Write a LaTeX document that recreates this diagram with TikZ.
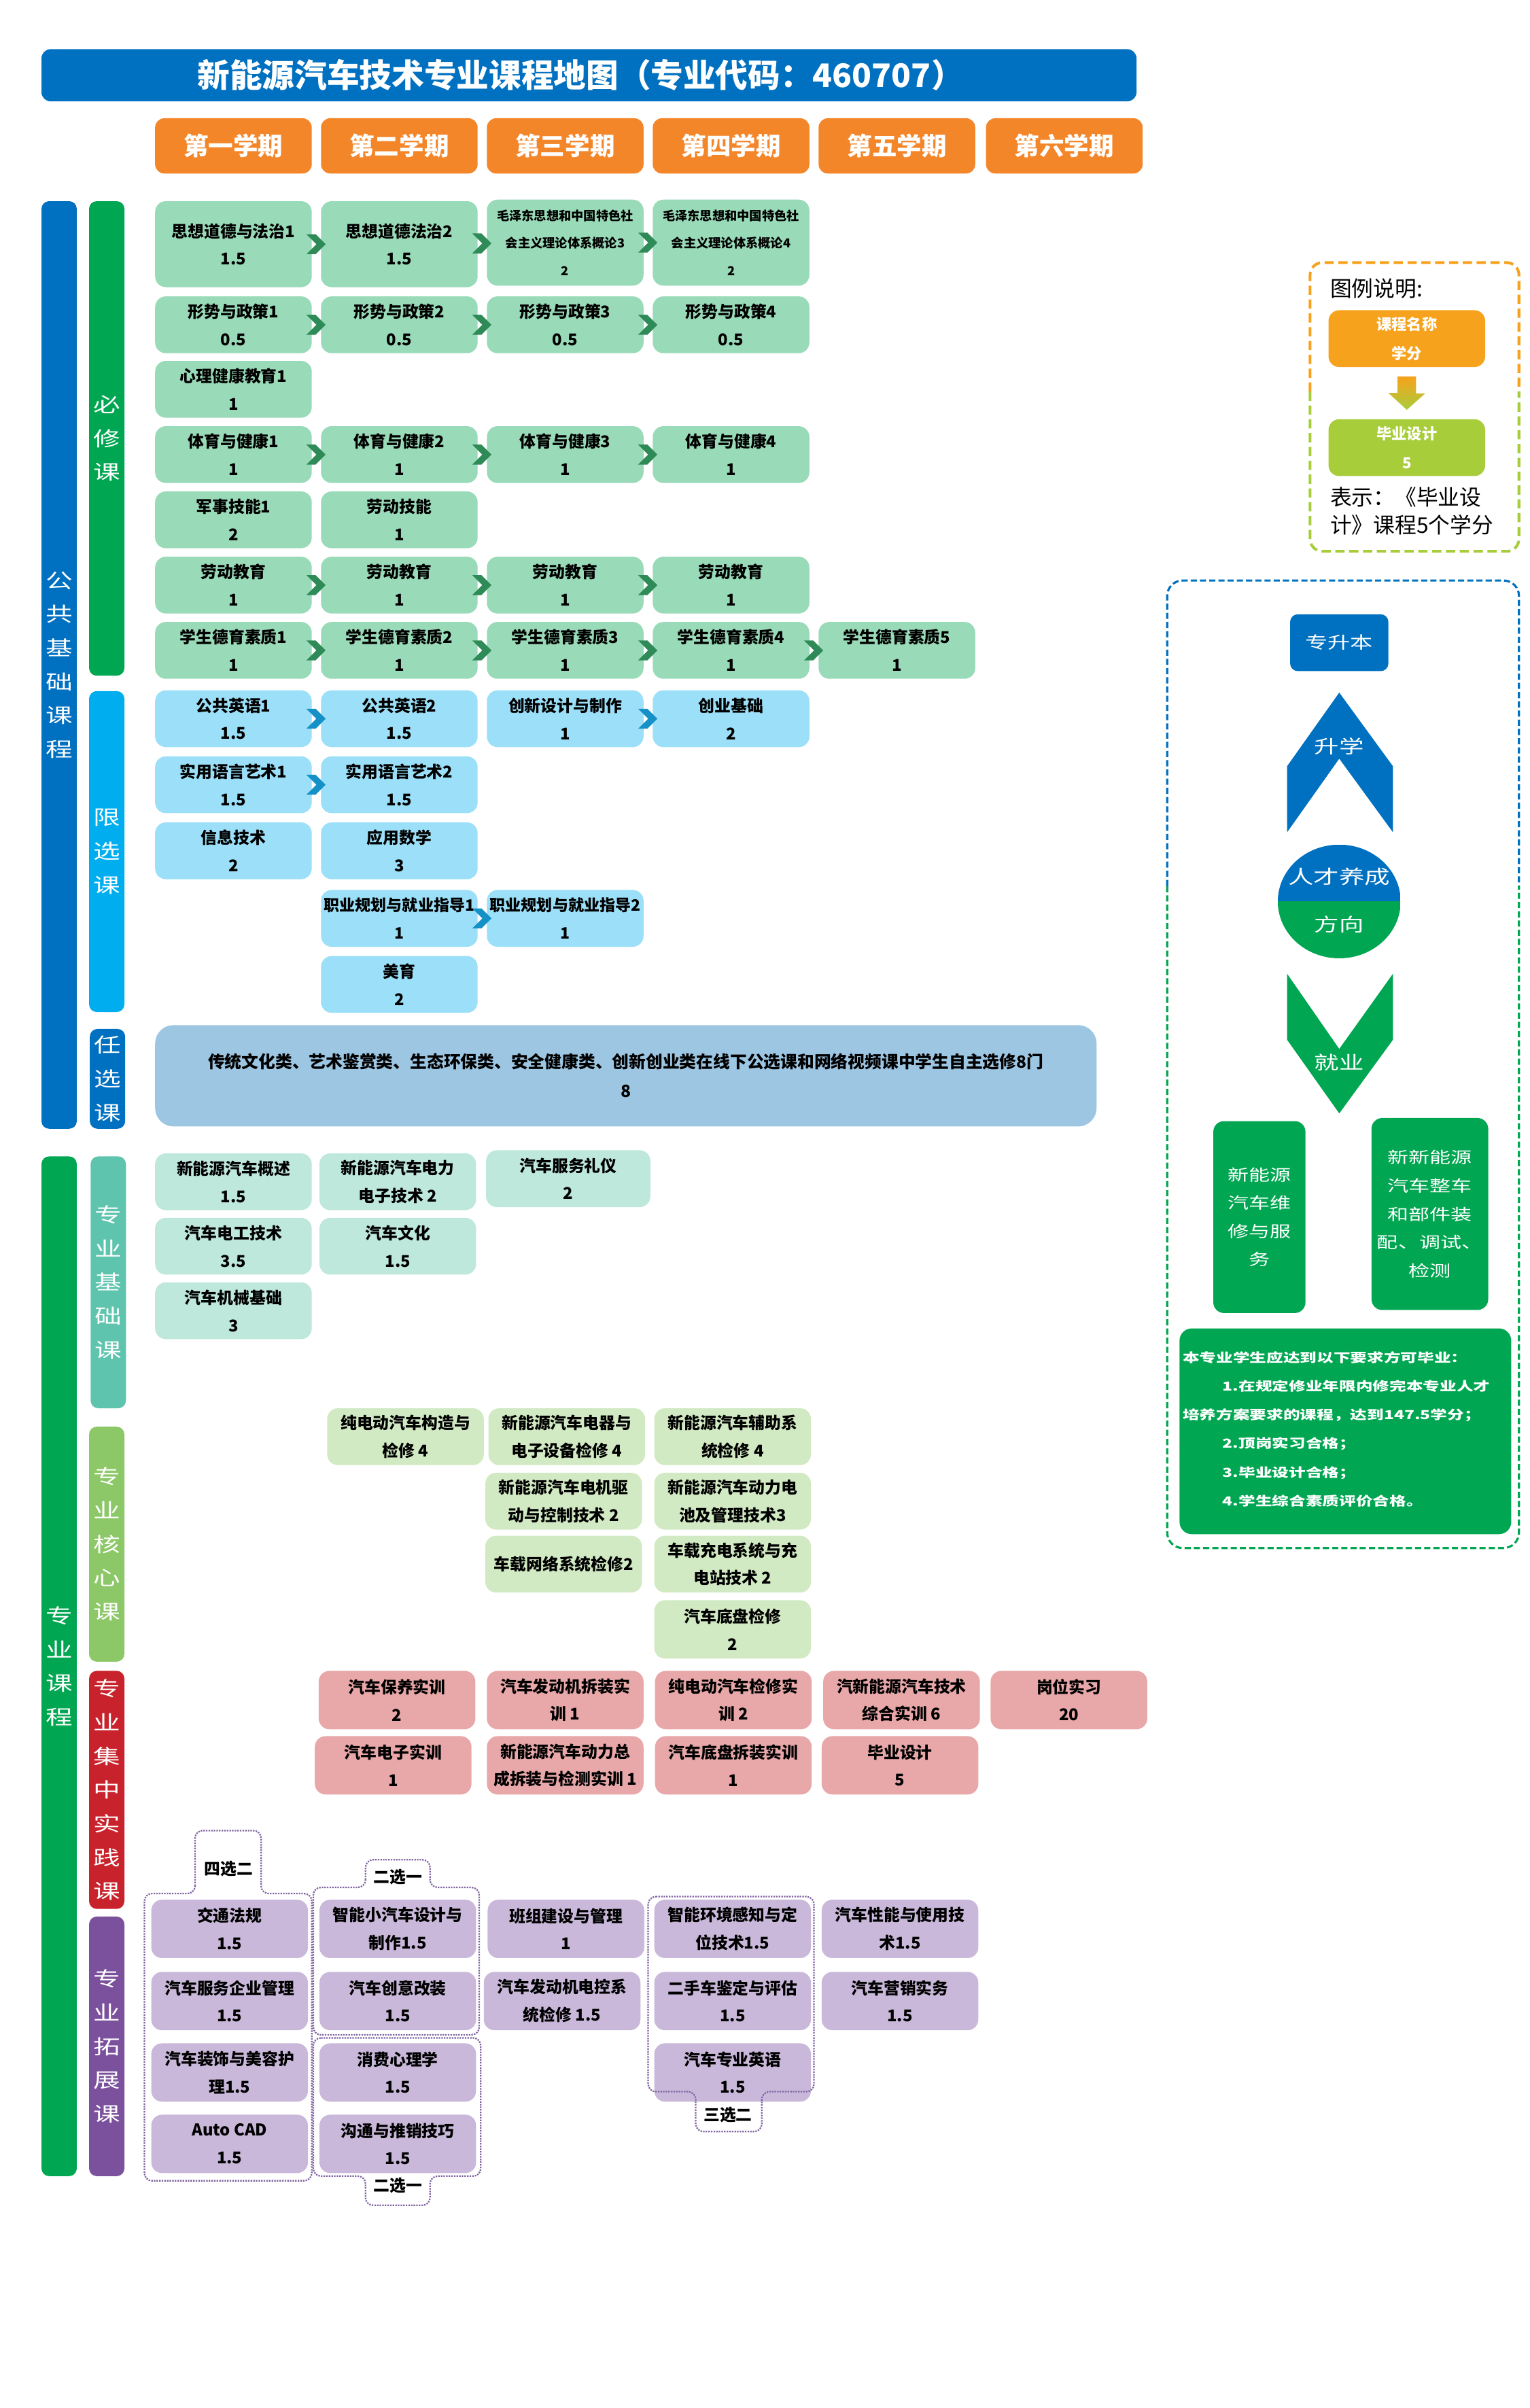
\documentclass[tikz,border=0pt]{standalone}
\usepackage{fontspec}
\setmainfont{Noto Sans CJK SC}
\newfontfamily\widefont[FakeStretch=1.35]{Noto Sans CJK SC}
\usetikzlibrary{calc,shapes.geometric}

\definecolor{mapblue}{HTML}{0070C0}
\definecolor{termorange}{HTML}{F4862A}
\definecolor{catgreen}{HTML}{00A651}
\definecolor{catcyan}{HTML}{00AEEF}
\definecolor{catteal}{HTML}{5EC4AD}
\definecolor{catlime}{HTML}{8DC868}
\definecolor{catred}{HTML}{C8232C}
\definecolor{catpurple}{HTML}{7B519D}
\definecolor{reqfill}{HTML}{99DAB8}
\definecolor{limfill}{HTML}{9BDFF8}
\definecolor{optfill}{HTML}{9DC6E3}
\definecolor{basefill}{HTML}{BFE8DD}
\definecolor{corefill}{HTML}{D2EAC3}
\definecolor{pracfill}{HTML}{E8A7A8}
\definecolor{extfill}{HTML}{C9B8DA}
\definecolor{chevgreen}{HTML}{2E8B57}
\definecolor{chevblue}{HTML}{1691C7}
\definecolor{legorange}{HTML}{F7A21C}
\definecolor{leggreen}{HTML}{A8CD3B}
\definecolor{groupline}{HTML}{8064A2}

% chevron between two neighbouring courses
\newcommand{\stepchevron}[3]{%
  \fill[#3] ($(#1.east)!0.5!(#2.west)$) ++(-6.5,-6.5) -- ++(6,0) -- ++(6.5,6.5)
    -- ++(-6.5,6.5) -- ++(-6,0) -- ++(6.5,-6.5) -- cycle;}

\begin{document}
\begin{tikzpicture}[x=0.5mm, y=-0.5mm,
  course/.style={rounded corners=3.5mm, minimum width=51mm, minimum height=18.5mm,
    inner sep=0pt, align=center, font=\bfseries\fontsize{15}{25.6}\selectfont},
  req/.style={course, fill=reqfill},
  lim/.style={course, fill=limfill},
  base/.style={course, fill=basefill},
  core/.style={course, fill=corefill},
  prac/.style={course, fill=pracfill, minimum height=19mm},
  ext/.style={course, fill=extfill, minimum height=19mm},
  catbar/.style={rounded corners=2.5mm, minimum width=11.5mm, inner sep=0pt, align=center,
    text=white, font=\widefont\fontsize{18.5}{31.3}\selectfont},
  term/.style={rounded corners=3mm, fill=termorange, minimum width=51mm, minimum height=18mm,
    text=white, font=\bfseries\fontsize{23}{26}\selectfont},
  pick/.style={groupline, densely dotted, line width=0.5mm, rounded corners=2.5mm},
  picklabel/.style={inner sep=0pt, font=\bfseries\fontsize{15}{18}\selectfont},
  panel/.style={text=white, inner sep=0pt, font=\widefont\fontsize{17}{20}\selectfont},
]
\useasboundingbox (0,0) rectangle (996,1568);

% title and semesters
\fill[mapblue, rounded corners=3mm] (27,32) rectangle (740,66);
\node[text=white, font=\bfseries\fontsize{30}{36}\selectfont] (title) at (378,49)
  {新能源汽车技术专业课程地图（专业代码：460707）};
\foreach \k/\cx/\lbl in {1/152/第一学期, 2/260/第二学期, 3/368/第三学期,
                         4/476/第四学期, 5/584/第五学期, 6/693/第六学期}
  \node[term] (term\k) at (\cx,95) {\lbl};

% category bars
\node[catbar, fill=mapblue, minimum height=302mm] (pub) at (38.5,433) {公\\共\\基\\础\\课\\程};
\node[catbar, fill=catgreen, minimum height=332mm] (pro) at (38.5,1085) {专\\业\\课\\程};
\node[catbar, fill=catgreen, minimum height=154.5mm] (must) at (69.5,285.5) {必\\修\\课};
\node[catbar, fill=catcyan, minimum height=104.5mm] (limited) at (69.5,554.5) {限\\选\\课};
\node[catbar, fill=mapblue, minimum height=32.5mm] (free) at (70,702.5) {任\\选\\课};
\node[catbar, fill=catteal, minimum height=82mm] (probase) at (70.5,835) {专\\业\\基\\础\\课};
\node[catbar, fill=catlime, minimum height=76.5mm] (procore) at (69.5,1005.5) {专\\业\\核\\心\\课};
\node[catbar, fill=catred, minimum height=77.5mm] (proprac) at (69.5,1165.5) {专\\业\\集\\中\\实\\践\\课};
\node[catbar, fill=catpurple, minimum height=84.5mm] (proext) at (69.5,1332.5) {专\\业\\拓\\展\\课};

% public required courses
\node[req, minimum height=28mm] (b11) at (152,159) {思想道德与法治1\\1.5};
\node[req, minimum height=28mm] (b12) at (260,159) {思想道德法治2\\1.5};
\node[req, minimum height=28mm, font=\bfseries\fontsize{11.5}{25.6}\selectfont] (b13) at (368,158)
  {毛泽东思想和中国特色社\\会主义理论体系概论3\\2};
\node[req, minimum height=28mm, font=\bfseries\fontsize{11.5}{25.6}\selectfont] (b14) at (476,158)
  {毛泽东思想和中国特色社\\会主义理论体系概论4\\2};
\node[req] (b21) at (152,211.5) {形势与政策1\\0.5};
\node[req] (b22) at (260,211.5) {形势与政策2\\0.5};
\node[req] (b23) at (368,211.5) {形势与政策3\\0.5};
\node[req] (b24) at (476,211.5) {形势与政策4\\0.5};
\node[req] (b31) at (152,253.5) {心理健康教育1\\1};
\node[req] (b41) at (152,296) {体育与健康1\\1};
\node[req] (b42) at (260,296) {体育与健康2\\1};
\node[req] (b43) at (368,296) {体育与健康3\\1};
\node[req] (b44) at (476,296) {体育与健康4\\1};
\node[req] (b51) at (152,338.5) {军事技能1\\2};
\node[req] (b52) at (260,338.5) {劳动技能\\1};
\node[req] (b61) at (152,381) {劳动教育\\1};
\node[req] (b62) at (260,381) {劳动教育\\1};
\node[req] (b63) at (368,381) {劳动教育\\1};
\node[req] (b64) at (476,381) {劳动教育\\1};
\node[req] (b71) at (152,423.5) {学生德育素质1\\1};
\node[req] (b72) at (260,423.5) {学生德育素质2\\1};
\node[req] (b73) at (368,423.5) {学生德育素质3\\1};
\node[req] (b74) at (476,423.5) {学生德育素质4\\1};
\node[req] (b75) at (584,423.5) {学生德育素质5\\1};
\foreach \a/\b in {b11/b12, b12/b13, b13/b14, b21/b22, b22/b23, b23/b24,
                   b41/b42, b42/b43, b43/b44, b61/b62, b62/b63, b63/b64,
                   b71/b72, b72/b73, b73/b74, b74/b75}
  \stepchevron{\a}{\b}{chevgreen};

% public limited electives
\node[lim] (x1a) at (152,468) {公共英语1\\1.5};
\node[lim] (x2a) at (260,468) {公共英语2\\1.5};
\node[lim] (x3a) at (368,468) {创新设计与制作\\1};
\node[lim] (x4a) at (476,468) {创业基础\\2};
\node[lim] (x1b) at (152,511) {实用语言艺术1\\1.5};
\node[lim] (x2b) at (260,511) {实用语言艺术2\\1.5};
\node[lim] (x1c) at (152,554) {信息技术\\2};
\node[lim] (x2c) at (260,554) {应用数学\\3};
\node[lim, font=\bfseries\fontsize{14.5}{25.6}\selectfont] (x2d) at (260,598) {职业规划与就业指导1\\1};
\node[lim, font=\bfseries\fontsize{14.5}{25.6}\selectfont] (x3d) at (368,598) {职业规划与就业指导2\\1};
\node[lim] (x2e) at (260,641) {美育\\2};
\foreach \a/\b in {x1a/x2a, x3a/x4a, x1b/x2b, x2d/x3d}
  \stepchevron{\a}{\b}{chevblue};

% free electives
\node[course, fill=optfill, rounded corners=6mm, minimum width=306.5mm, minimum height=33mm,
  font=\bfseries\fontsize{15.6}{27}\selectfont] (opt) at (407.5,700.5)
  {传统文化类、艺术鉴赏类、生态环保类、安全健康类、创新创业类在线下公选课和网络视频课中学生自主选修8门\\8};

% professional basics
\node[base] (p11) at (152,769.5) {新能源汽车概述\\1.5};
\node[base] (p12) at (259,769.5) {新能源汽车电力\\电子技术 2};
\node[base, minimum width=53.5mm] (p13) at (370,767.5) {汽车服务礼仪\\2};
\node[base] (p21) at (152,811.5) {汽车电工技术\\3.5};
\node[base] (p22) at (259,811.5) {汽车文化\\1.5};
\node[base] (p31) at (152,853.5) {汽车机械基础\\3};

% professional core
\node[core] (c11) at (264,935.5) {纯电动汽车构造与\\检修 4};
\node[core] (c12) at (369,935.5) {新能源汽车电器与\\电子设备检修 4};
\node[core] (c13) at (477,935.5) {新能源汽车辅助系\\统检修 4};
\node[core] (c22) at (367,977.5) {新能源汽车电机驱\\动与控制技术 2};
\node[core] (c23) at (477,977.5) {新能源汽车动力电\\池及管理技术3};
\node[core] (c32) at (367,1018.5) {车载网络系统检修2};
\node[core] (c33) at (477,1018.5) {车载充电系统与充\\电站技术 2};
\node[core, minimum height=19mm] (c43) at (477,1061) {汽车底盘检修\\2};

% practice
\node[prac] (s11) at (258.5,1107) {汽车保养实训\\2};
\node[prac] (s12) at (368,1107) {汽车发动机拆装实\\训 1};
\node[prac] (s13) at (477.5,1107) {纯电动汽车检修实\\训 2};
\node[prac] (s14) at (587,1107) {汽新能源汽车技术\\综合实训 6};
\node[prac] (s15) at (696,1107) {岗位实习\\20};
\node[prac] (s21) at (256,1149.5) {汽车电子实训\\1};
\node[prac] (s22) at (368,1149.5) {新能源汽车动力总\\成拆装与检测实训 1};
\node[prac] (s23) at (477.5,1149.5) {汽车底盘拆装实训\\1};
\node[prac] (s24) at (586,1149.5) {毕业设计\\5};

% extension
\node[ext] (e11) at (149.5,1256) {交通法规\\1.5};
\node[ext] (e21) at (149.5,1303) {汽车服务企业管理\\1.5};
\node[ext] (e31) at (149.5,1349.5) {汽车装饰与美容护\\理1.5};
\node[ext] (e41) at (149.5,1396) {Auto CAD\\1.5};
\node[ext] (e12) at (259,1256) {智能小汽车设计与\\制作1.5};
\node[ext] (e22) at (259,1303) {汽车创意改装\\1.5};
\node[ext] (e32) at (259,1349.5) {消费心理学\\1.5};
\node[ext] (e42) at (259,1396) {沟通与推销技巧\\1.5};
\node[ext] (e13) at (368.5,1256) {班组建设与管理\\1};
\node[ext] (e23) at (366,1303) {汽车发动机电控系\\统检修 1.5};
\node[ext] (e14) at (477,1256) {智能环境感知与定\\位技术1.5};
\node[ext] (e24) at (477,1303) {二手车鉴定与评估\\1.5};
\node[ext] (e34) at (477,1349.5) {汽车专业英语\\1.5};
\node[ext] (e15) at (586,1256) {汽车性能与使用技\\术1.5};
\node[ext] (e25) at (586,1303) {汽车营销实务\\1.5};

% choice groups
\draw[pick] (127,1233) -- (127,1192) -- (170,1192) -- (170,1233) -- (203,1233)
  -- (203,1420) -- (94,1420) -- (94,1233) -- cycle;
\node[picklabel] (pick4) at (149,1217) {四选二};
\draw[pick] (238,1229) -- (238,1211) -- (280,1211) -- (280,1229) -- (312,1229)
  -- (312,1325) -- (204,1325) -- (204,1229) -- cycle;
\node[picklabel] (pick2a) at (259,1222) {二选一};
\draw[pick] (204,1327) -- (313,1327) -- (313,1417) -- (280,1417) -- (280,1436)
  -- (238,1436) -- (238,1417) -- (204,1417) -- cycle;
\node[picklabel] (pick2b) at (259,1423) {二选一};
\draw[pick] (422,1235) -- (530,1235) -- (530,1362) -- (496,1362) -- (496,1388)
  -- (453,1388) -- (453,1362) -- (422,1362) -- cycle;
\node[picklabel] (pick3) at (474,1377) {三选二};

% legend
\draw[legorange, dash pattern=on 3mm off 1.5mm, line width=0.9mm, rounded corners=4mm]
  (853,255) -- (853,171) -- (989,171) -- (989,255);
\draw[leggreen, dash pattern=on 3mm off 1.5mm, line width=0.9mm, rounded corners=4mm]
  (853,255) -- (853,359) -- (989,359) -- (989,255);
\node[anchor=west, inner sep=0pt, font=\fontsize{20}{24}\selectfont] (legtitle) at (866,188) {图例说明:};
\node[course, fill=legorange, text=white, font=\bfseries\fontsize{14}{27}\selectfont] (legname) at (916,220.5) {课程名称\\学分};
\node[course, fill=leggreen, text=white, font=\bfseries\fontsize{14}{27}\selectfont] (legdemo) at (916,291.5) {毕业设计\\5};
\shade[top color=legorange, bottom color=leggreen] ($(legname.south)+(-6,6)$) -- ++(12,0) -- ++(0,11)
  -- ++(6,0) -- ($(legdemo.north)+(0,-6)$) -- ++(-12,-11) -- ++(6,0) -- cycle;
\node[anchor=north west, align=left, inner sep=0pt, font=\fontsize{20}{25.6}\selectfont] (legnote) at (866,317)
  {表示：《毕业设\\计》课程5个学分};

% career panel
\draw[mapblue, dash pattern=on 2mm off 1mm, line width=0.7mm, rounded corners=5mm]
  (760,577) -- (760,378) -- (989,378) -- (989,577);
\draw[catgreen, dash pattern=on 2mm off 1mm, line width=0.7mm, rounded corners=5mm]
  (760,577) -- (760,1008) -- (989,1008) -- (989,577);
\node[fill=mapblue, rounded corners=2.5mm, minimum width=32mm, minimum height=18.5mm, text=white,
  font=\widefont\fontsize{15.5}{18}\selectfont] (upgrade) at (872,418.5) {专升本};
\fill[mapblue] (872,451) -- (907,499) -- (907,542) -- (872,494) -- (838,542) -- (838,499) -- cycle;
\node[panel] (study) at (872,486) {升学};
\node[ellipse, minimum width=40mm, minimum height=37mm, inner sep=0pt,
  path picture={\fill[mapblue] (path picture bounding box.north west) rectangle (path picture bounding box.east);
                \fill[catgreen] (path picture bounding box.south west) rectangle (path picture bounding box.east);}]
  (talent) at (872,587) {};
\node[panel, font=\widefont\fontsize{17.5}{20}\selectfont] (talenttop) at (872,571) {人才养成};
\node[panel] (talentbot) at (872,602) {方向};
\fill[catgreen] (838,634) -- (872,683) -- (907,634) -- (907,677) -- (872,725) -- (838,677) -- cycle;
\node[panel] (work) at (872,692) {就业};
\node[fill=catgreen, rounded corners=3.5mm, minimum width=30mm, minimum height=62.5mm, align=center,
  text=white, font=\widefont\fontsize{14.5}{26}\selectfont] (jobrepair) at (820,792.5) {新能源\\汽车维\\修与服\\务};
\node[fill=catgreen, rounded corners=3.5mm, minimum width=38mm, minimum height=62.5mm, align=center, inner sep=0pt,
  text=white, font=\widefont\fontsize{14.5}{26.3}\selectfont] (jobassembly) at (931,790.5)
  {新新能源\\汽车整车\\和部件装\\配、调试、\\检测};
\node[fill=catgreen, rounded corners=4mm, minimum width=108mm, minimum height=67mm] (gradbox) at (876,932) {};
\node[anchor=north west, align=left, inner sep=0pt, text=white,
  font=\widefont\bfseries\fontsize{11.5}{26.5}\selectfont] (gradtext) at (770,880)
  {本专业学生应达到以下要求方可毕业：\\
   \hspace*{13mm}1.在规定修业年限内修完本专业人才\\
   培养方案要求的课程，达到147.5学分；\\
   \hspace*{13mm}2.顶岗实习合格；\\
   \hspace*{13mm}3.毕业设计合格；\\
   \hspace*{13mm}4.学生综合素质评价合格。};
\end{tikzpicture}
\end{document}
